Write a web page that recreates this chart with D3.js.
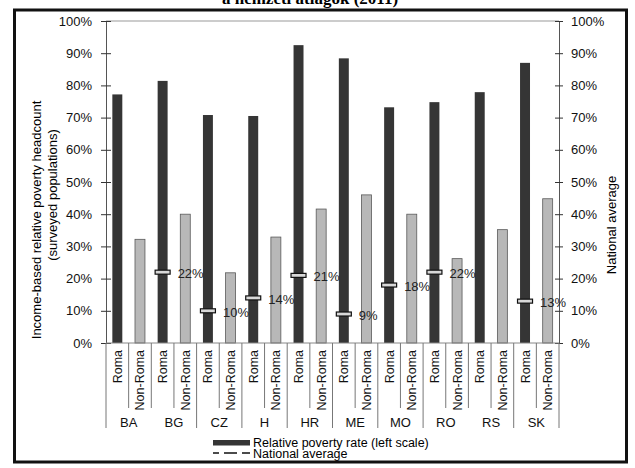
<!DOCTYPE html>
<html>
<head>
<meta charset="utf-8">
<script src="https://cdn.jsdelivr.net/npm/d3@7"></script>
<style>
  body { margin: 0; background: #fff; }
  svg { display: block; font-family: "Liberation Sans", Arial, sans-serif; }
</style>
</head>
<body>
<svg width="635" height="468"></svg>
<script>
// values (percent)
var countries = ["BA", "BG", "CZ", "H", "HR", "ME", "MO", "RO", "RS", "SK"];
var groups = ["Roma", "Non-Roma"];
var romaRate = [77.2, 81.4, 70.8, 70.5, 92.5, 88.4, 73.2, 74.8, 77.9, 87.0];
var nonRomaRate = [32.2, 40.0, 21.8, 32.9, 41.6, 46.0, 40.0, 26.2, 35.2, 44.8];
var nationalAvg = [null, 22, 10, 14, 21, 9, 18, 22, null, 13];
var yTicks = [0, 10, 20, 30, 40, 50, 60, 70, 80, 90, 100];
// country boundaries drawn short (no long separator after these)
var joinedWithNext = ["BA", "RO"];

var svg = d3.select("svg");

var plotLeft = 106, plotRight = 559, plotTop = 21, plotBottom = 343;

var keys = [];
countries.forEach(function(c) { groups.forEach(function(g) { keys.push(c + "|" + g); }); });

var x = d3.scaleBand()
    .domain(keys)
    .range([plotLeft, plotRight])
    .paddingInner(0.56)
    .paddingOuter(0.28);

var y = d3.scaleLinear().domain([0, 100]).range([plotBottom, plotTop]);

var bars = [];
countries.forEach(function(c, i) {
  bars.push({key: c + "|Roma", group: "Roma", v: romaRate[i]});
  bars.push({key: c + "|Non-Roma", group: "Non-Roma", v: nonRomaRate[i]});
});

// title (cut off at the top)
svg.append("text")
    .attr("x", 310)
    .attr("y", 4)
    .attr("text-anchor", "middle")
    .style("font-family", "'Liberation Serif', 'Times New Roman', serif")
    .style("font-weight", "bold")
    .style("font-size", "17px")
    .text("a nemzeti átlagok (2011)");

// frame
svg.append("rect")
    .attr("x", 14.5).attr("y", 10)
    .attr("width", 612).attr("height", 452)
    .attr("fill", "none")
    .attr("stroke", "#111")
    .attr("stroke-width", 3);

// top line at 100%
svg.append("line")
    .attr("x1", plotLeft).attr("x2", plotRight)
    .attr("y1", y(100)).attr("y2", y(100))
    .attr("stroke", "#999");

// bars
svg.append("g").selectAll("rect")
    .data(bars)
  .enter().append("rect")
    .attr("x", function(d) { return x(d.key); })
    .attr("width", x.bandwidth())
    .attr("y", function(d) { return y(d.v); })
    .attr("height", function(d) { return y(0) - y(d.v); })
    .attr("fill", function(d) { return d.group == "Roma" ? "#353535" : "#b8b8b8"; })
    .attr("stroke", function(d) { return d.group == "Roma" ? "none" : "#5a5a5a"; })
    .attr("stroke-width", 0.8);

// axes
var fmt = function(d) { return d + "%"; };

var yAxisL = svg.append("g")
    .attr("transform", "translate(" + plotLeft + ",0)")
    .call(d3.axisLeft(y).tickValues(yTicks).tickFormat(fmt).tickSize(5).tickSizeOuter(0).tickPadding(9));

var yAxisR = svg.append("g")
    .attr("transform", "translate(" + plotRight + ",0)")
    .call(d3.axisRight(y).tickValues(yTicks).tickFormat(fmt).tickSize(4).tickSizeOuter(0).tickPadding(8));

yAxisL.selectAll(".tick line").attr("x1", 5).attr("x2", -5);
yAxisR.selectAll(".tick line").attr("x1", -4).attr("x2", 4);

[yAxisL, yAxisR].forEach(function(a) {
  a.select(".domain").attr("stroke", "#555");
  a.selectAll(".tick line").attr("stroke", "#333");
  a.selectAll("text")
      .attr("fill", "#111")
      .style("font-size", "13px")
      .style("font-family", "'Liberation Sans', Arial, sans-serif");
});

// x axis line
svg.append("line")
    .attr("x1", plotLeft).attr("x2", plotRight)
    .attr("y1", plotBottom).attr("y2", plotBottom)
    .attr("stroke", "#888");

// separators under the axis
var step = x.step();
var seps = d3.range(keys.length + 1);
svg.append("g").selectAll("line")
    .data(seps)
  .enter().append("line")
    .attr("x1", function(i) { return x(keys[0]) - step * x.paddingOuter() + i * step; })
    .attr("x2", function(i) { return x(keys[0]) - step * x.paddingOuter() + i * step; })
    .attr("y1", plotBottom)
    .attr("y2", function(i) {
      if (i % 2 == 1) return 408;
      var prev = countries[i / 2 - 1];
      return joinedWithNext.indexOf(prev) >= 0 ? 408 : 428;
    })
    .attr("stroke", "#777");

// Roma / Non-Roma labels
svg.append("g").selectAll("text")
    .data(bars)
  .enter().append("text")
    .attr("transform", function(d) {
      return "translate(" + (x(d.key) + x.bandwidth() / 2 + 4.5) + ",350) rotate(-90)";
    })
    .attr("text-anchor", "end")
    .style("font-size", "12.5px")
    .attr("fill", "#111")
    .text(function(d) { return d.group; });

// country labels
svg.append("g").selectAll("text")
    .data(countries)
  .enter().append("text")
    .attr("x", function(c) { return x(c + "|Roma") - step * x.paddingOuter() + step; })
    .attr("y", 427)
    .attr("text-anchor", "middle")
    .style("font-size", "13px")
    .attr("fill", "#111")
    .text(function(c) { return c; });

// national average markers
var avg = countries.map(function(c, i) { return {c: c, v: nationalAvg[i]}; })
    .filter(function(d) { return d.v != null; });

var avgG = svg.append("g");
avgG.selectAll("rect")
    .data(avg)
  .enter().append("rect")
    .attr("x", function(d) { return x(d.c + "|Roma") + x.bandwidth() / 2 - 7.5; })
    .attr("y", function(d) { return y(d.v) - 2; })
    .attr("width", 15)
    .attr("height", 4)
    .attr("fill", "#d8d8d8")
    .attr("stroke", "#111")
    .attr("stroke-width", 1.2);

avgG.selectAll("text")
    .data(avg)
  .enter().append("text")
    .attr("x", function(d) { return x(d.c + "|Roma") + x.bandwidth() / 2 + 15; })
    .attr("y", function(d) { return y(d.v) + 6; })
    .style("font-size", "13px")
    .attr("fill", "#222")
    .text(function(d) { return d.v + "%"; });

// axis titles
svg.append("text")
    .attr("transform", "translate(41,220) rotate(-90)")
    .attr("text-anchor", "middle")
    .style("font-size", "13px")
    .text("Income-based relative poverty headcount");
svg.append("text")
    .attr("transform", "translate(57,195) rotate(-90)")
    .attr("text-anchor", "middle")
    .style("font-size", "13px")
    .text("(surveyed populations)");
svg.append("text")
    .attr("transform", "translate(616,225) rotate(-90)")
    .attr("text-anchor", "middle")
    .style("font-size", "13px")
    .text("National average");

// legend
var legend = svg.append("g");
legend.append("rect")
    .attr("x", 213).attr("y", 440)
    .attr("width", 37).attr("height", 5.5)
    .attr("fill", "#353535");
legend.append("text")
    .attr("x", 253).attr("y", 446.5)
    .style("font-size", "12.5px")
    .text("Relative poverty rate (left scale)");
legend.append("line")
    .attr("x1", 213).attr("x2", 250)
    .attr("y1", 453).attr("y2", 453)
    .attr("stroke", "#111")
    .attr("stroke-width", 1.3)
    .attr("stroke-dasharray", "6,5,13,5,8");
legend.append("text")
    .attr("x", 253).attr("y", 458)
    .style("font-size", "12.5px")
    .text("National average");
</script>
</body>
</html>
